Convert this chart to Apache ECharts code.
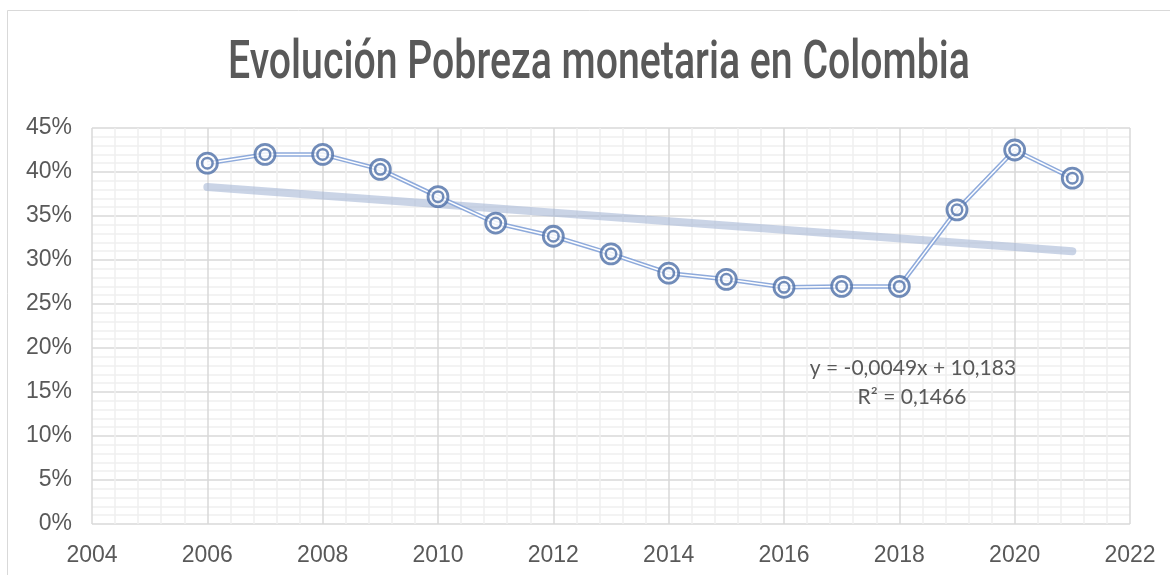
<!DOCTYPE html>
<html>
<head>
<meta charset="utf-8">
<script src="https://cdn.jsdelivr.net/npm/echarts@6/dist/echarts.min.js"></script>
<style>
html,body{margin:0;padding:0;background:#fff;}
#chart{width:1170px;height:575px;}
</style>
</head>
<body>
<div id="chart"></div>
<script>
const titleText = 'Evolución Pobreza monetaria en Colombia';
const years = [2006, 2007, 2008, 2009, 2010, 2011, 2012, 2013, 2014, 2015, 2016, 2017, 2018, 2019, 2020, 2021];
const poverty = [0.410, 0.420, 0.420, 0.403, 0.372, 0.342, 0.327, 0.307, 0.285, 0.278, 0.269, 0.270, 0.270, 0.357, 0.425, 0.393];
const trendYears = [2006, 2021];
const trendValues = [0.383, 0.310];
const equationLines = ['y = -0,0049x + 10,183', 'R² = 0,1466'];

const pts = years.map((y, i) => [y, poverty[i]]);
const trendPts = trendYears.map((y, i) => [y, trendValues[i]]);

const textColor = '#595959';
const lineColor = '#8eaadb';
const markerColor = '#4e6fa8';

// condensed title: Roboto squeezed horizontally
const titleFont = '500 53px Roboto';
const cv = document.createElement('canvas').getContext('2d');
cv.font = titleFont;
const titleNatural = cv.measureText(titleText).width;
const titleScale = 742 / titleNatural;

const chart = echarts.init(document.getElementById('chart'), null, {renderer: 'canvas'});

chart.setOption({
  animation: false,
  backgroundColor: '#ffffff',
  graphic: [{
    type: 'rect',
    shape: {x: 7.5, y: 10.5, width: 1200, height: 700},
    style: {fill: 'none', stroke: '#d9d9d9', lineWidth: 1},
    silent: true,
    z: -10
  }, {
    type: 'text',
    x: 599, y: 38,
    scaleX: titleScale,
    style: {
      text: titleText,
      font: titleFont,
      fill: textColor,
      align: 'center',
      verticalAlign: 'top'
    },
    silent: true,
    z: 10
  }, {
    type: 'text',
    x: 913, y: 368,
    style: {
      text: equationLines[0],
      font: '21px Lato',
      fill: textColor,
      align: 'center',
      verticalAlign: 'middle'
    },
    silent: true,
    z: 10
  }, {
    type: 'text',
    x: 912, y: 397,
    style: {
      text: equationLines[1],
      font: '21px Lato',
      fill: textColor,
      align: 'center',
      verticalAlign: 'middle'
    },
    silent: true,
    z: 10
  }],
  grid: {left: 92, right: 40, top: 128, bottom: 51, containLabel: false},
  xAxis: {
    type: 'value',
    min: 2004, max: 2022, interval: 2,
    axisLine: {show: false},
    axisTick: {show: false},
    axisLabel: {
      color: textColor, fontFamily: 'Liberation Sans', fontSize: 23, margin: 20,
      formatter: v => String(v)
    },
    splitLine: {show: true, lineStyle: {color: '#d9d9d9', width: 1.5}},
    minorTick: {show: false, splitNumber: 5},
    minorSplitLine: {show: true, lineStyle: {color: '#efefef', width: 1.5}}
  },
  yAxis: {
    type: 'value',
    min: 0, max: 0.45, interval: 0.05,
    axisLine: {show: false},
    axisTick: {show: false},
    axisLabel: {
      color: textColor, fontFamily: 'Liberation Sans', fontSize: 23, margin: 20,
      formatter: v => Math.round(v * 100) + '%'
    },
    splitLine: {show: true, lineStyle: {color: '#d9d9d9', width: 1.5}},
    minorTick: {show: false, splitNumber: 5},
    minorSplitLine: {show: true, lineStyle: {color: '#efefef', width: 1.5}}
  },
  series: [
    {
      name: 'trend',
      type: 'line',
      data: trendPts,
      symbol: 'none',
      lineStyle: {color: 'rgba(166,184,214,0.6)', width: 8, cap: 'round'},
      z: 2,
      silent: true
    },
    {
      name: 'poverty-outer',
      type: 'line',
      data: pts,
      symbol: 'none',
      lineStyle: {color: lineColor, width: 4.5},
      z: 3,
      silent: true
    },
    {
      name: 'poverty-inner',
      type: 'line',
      data: pts,
      symbol: 'none',
      lineStyle: {color: '#ffffff', width: 1.5},
      z: 4,
      silent: true
    },
    {
      name: 'marker-outer',
      type: 'scatter',
      data: pts,
      symbol: 'circle',
      symbolSize: 20,
      itemStyle: {color: 'rgba(255,255,255,0.85)', borderColor: markerColor, borderWidth: 2.8},
      z: 5,
      silent: true
    },
    {
      name: 'marker-inner',
      type: 'scatter',
      data: pts,
      symbol: 'circle',
      symbolSize: 10.5,
      itemStyle: {color: 'rgba(255,255,255,0.6)', borderColor: markerColor, borderWidth: 2.5},
      z: 6,
      silent: true
    }
  ]
});
</script>
</body>
</html>
